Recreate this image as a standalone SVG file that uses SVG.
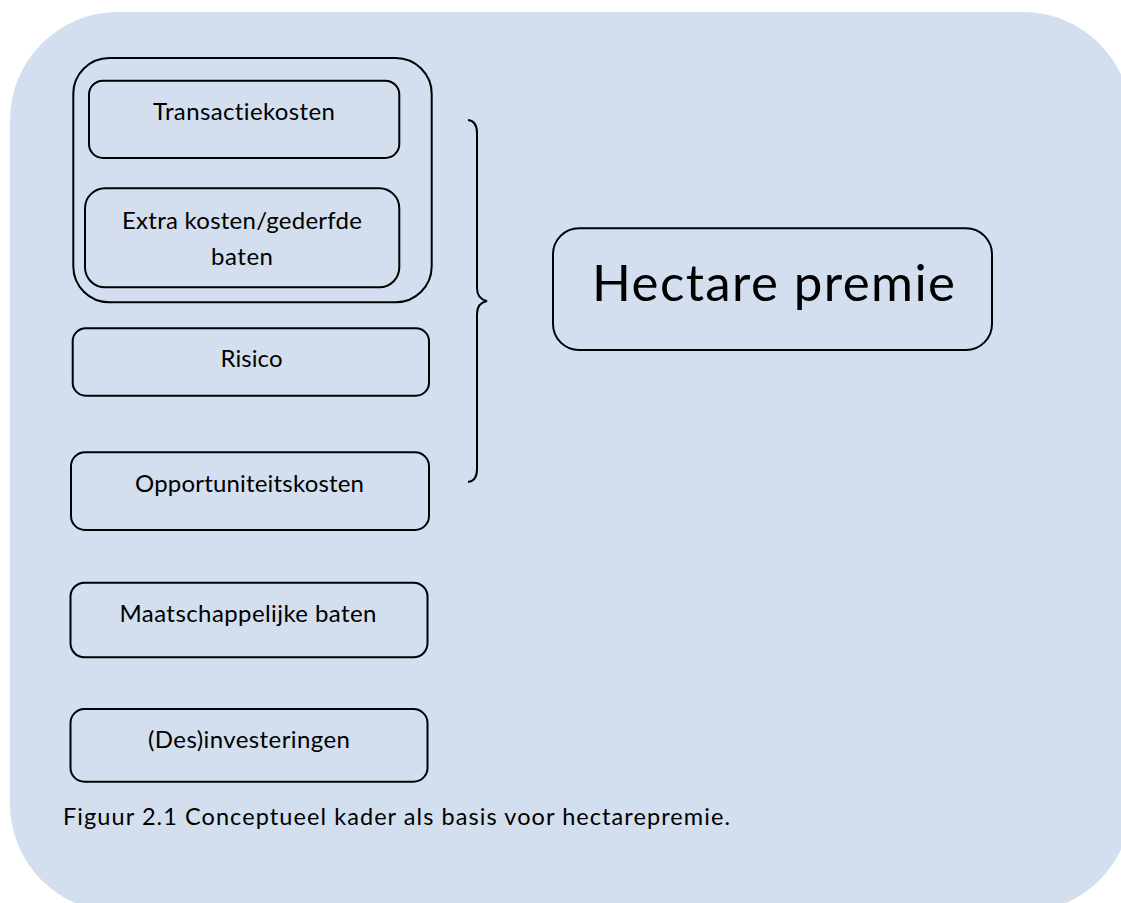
<svg xmlns="http://www.w3.org/2000/svg" width="1121" height="903" viewBox="0 0 1121 903">
<style>
.bg{fill:#D3DFEE;stroke:none}
.box{fill:#D3DFEE;stroke:#000;stroke-width:2}
text{font-family:Lato,"Open Sans","Liberation Sans",sans-serif;fill:#000;font-variant-ligatures:none}
.lbl{font-size:24px;text-anchor:middle}
.big{font-size:51px;text-anchor:middle}
.cap{font-size:23.5px}
.brace{fill:none;stroke:#000;stroke-width:2}
</style>
<rect width="1121" height="903" fill="#FFFFFF"/>
<rect class="bg" x="10" y="12" width="1121" height="900" rx="108" ry="108"/>
<g id="group-kosten">
<rect class="box" x="73.3" y="58" width="358.4" height="244.3" rx="36" ry="36"/>
</g>
<g id="node-transactiekosten">
<rect class="box" x="89" y="80.7" width="310.3" height="77.3" rx="14" ry="14"/>
<text class="lbl" x="244" y="120" textLength="182">Transactiekosten</text>
</g>
<g id="node-extra">
<rect class="box" x="85" y="188.3" width="314.3" height="99" rx="20" ry="20"/>
<text class="lbl" x="242" y="229" textLength="240">Extra kosten/gederfde</text>
<text class="lbl" x="242" y="265" textLength="62">baten</text>
</g>
<g id="node-risico">
<rect class="box" x="72.7" y="328.3" width="356.3" height="67.4" rx="13" ry="13"/>
<text class="lbl" x="251.5" y="367" textLength="62">Risico</text>
</g>
<g id="node-opportuniteitskosten">
<rect class="box" x="71" y="452.3" width="358" height="77.7" rx="14" ry="14"/>
<text class="lbl" x="249.5" y="492" textLength="229">Opportuniteitskosten</text>
</g>
<g id="node-maatschappelijk">
<rect class="box" x="70.5" y="582.7" width="357" height="74.6" rx="14" ry="14"/>
<text class="lbl" x="248" y="622" textLength="257">Maatschappelijke baten</text>
</g>
<g id="node-desinvesteringen">
<rect class="box" x="70.5" y="709" width="357" height="72.7" rx="14" ry="14"/>
<text class="lbl" x="249" y="748" textLength="202">(Des)investeringen</text>
</g>
<g id="node-hectare">
<rect class="box" x="553" y="228.3" width="439" height="121.7" rx="26" ry="26"/>
<text class="big" x="773.5" y="300.5" textLength="363">Hectare premie</text>
</g>
<g id="connectors">
<path class="brace" d="M468,120 Q477,121 477,133 L477,288 Q477,299 487,301 Q477,303 477,314 L477,469 Q477,481 468,482"/>
</g>
<g id="caption">
<text class="cap" x="63" y="825" textLength="667">Figuur 2.1 Conceptueel kader als basis voor hectarepremie.</text>
</g>
</svg>
